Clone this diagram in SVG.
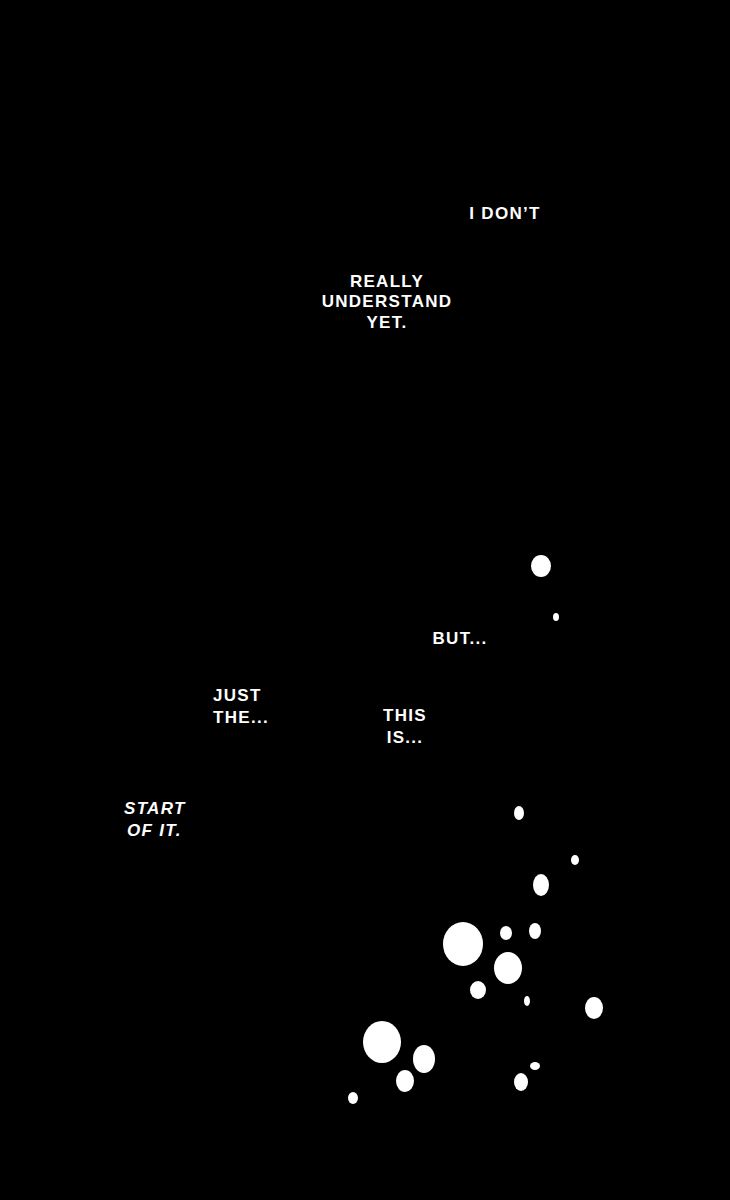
<svg xmlns="http://www.w3.org/2000/svg" width="730" height="1200" viewBox="0 0 730 1200">
<style>
text{font-family:"Liberation Sans",Arial,sans-serif;font-size:17px;fill:#fff;font-weight:bold;letter-spacing:1.3px}
.c{text-anchor:middle}
.i{font-style:italic}
ellipse{fill:#fff}
</style>
<rect width="730" height="1200" fill="#000"/>
<text class="c" x="505" y="219">I DON’T</text>
<text class="c" x="387" y="287">REALLY</text>
<text class="c" x="387" y="307">UNDERSTAND</text>
<text class="c" x="387" y="328">YET.</text>
<text class="c" x="460" y="644">BUT...</text>
<text x="213" y="701">JUST</text>
<text x="213" y="723">THE...</text>
<text class="c" x="405" y="721">THIS</text>
<text class="c" x="405" y="743">IS...</text>
<text class="i" x="124" y="814">START</text>
<text class="i" x="127" y="836">OF IT.</text>
<g>
<ellipse cx="541" cy="566" rx="10" ry="11"/>
<ellipse cx="556" cy="617" rx="3" ry="4"/>
<ellipse cx="519" cy="813" rx="5" ry="7"/>
<ellipse cx="575" cy="860" rx="4" ry="5"/>
<ellipse cx="541" cy="885" rx="8" ry="11"/>
<ellipse cx="463" cy="944" rx="20" ry="22"/>
<ellipse cx="506" cy="933" rx="6" ry="7"/>
<ellipse cx="535" cy="931" rx="6" ry="8"/>
<ellipse cx="508" cy="968" rx="14" ry="16"/>
<ellipse cx="478" cy="990" rx="8" ry="9"/>
<ellipse cx="527" cy="1001" rx="3" ry="5"/>
<ellipse cx="594" cy="1008" rx="9" ry="11"/>
<ellipse cx="382" cy="1042" rx="19" ry="21"/>
<ellipse cx="424" cy="1059" rx="11" ry="14"/>
<ellipse cx="405" cy="1081" rx="9" ry="11"/>
<ellipse cx="535" cy="1066" rx="5" ry="4"/>
<ellipse cx="521" cy="1082" rx="7" ry="9"/>
<ellipse cx="353" cy="1098" rx="5" ry="6"/>
</g>
</svg>
